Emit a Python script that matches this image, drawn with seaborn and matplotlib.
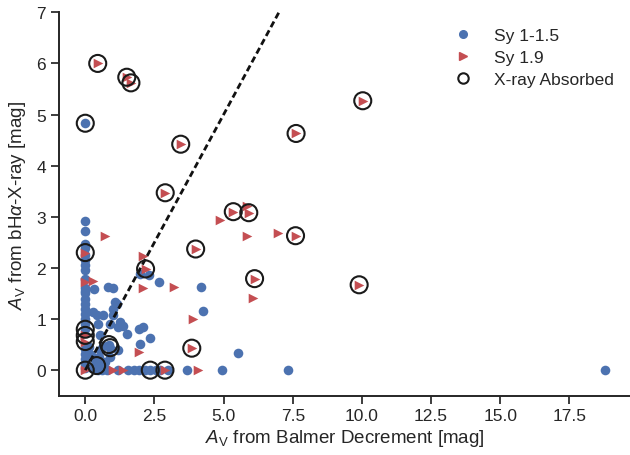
import matplotlib
matplotlib.use("Agg")
import matplotlib.pyplot as plt
import seaborn as sns
import pandas as pd
import numpy as np
from matplotlib.lines import Line2D

# ---------------- data ----------------
# Sy 1-1.5 (blue circles)
sy1_x = [0, 0, 0, 0, 0, 0, 0, 0, 0, 0, 0, 0, 0, 0, 0, 0, 0, 0, 0, 0, 0, 0, 0,
         0, 0,
         0.2, 0.35, 0.5, 0.6, 0.25, 0.55, 0.15, 0.9, 0.7, 0.41,
         0.33, 0.81, 1.01, 1.07, 1.01, 0.65, 0.41, 1.01, 0.89, 0.47, 0.53, 0.65,
         1.19, 1.19, 1.37, 1.5, 1.25, 1.13, 1.93, 2.1, 2.34, 1.98, 0.29,
         0.85, 0.9,
         1.98, 2.3, 2.66, 4.17, 4.24, 5.51,
         0.45, 0.6, 0.8, 1.2, 1.55, 1.75, 1.95, 2.15, 2.55, 2.7, 3.0, 3.67,
         4.93, 7.33, 18.8, 2.35]
sy1_y = [2.91, 2.72, 2.47, 2.38, 2.25, 2.15, 2.05, 1.95, 1.78, 1.6, 1.5, 1.4,
         1.3, 1.2, 1.1, 1.0, 0.9, 0.42, 0.32, 0.22, 0.12, 0.05, 1.55,
         4.83, 0.8,
         0.3, 0.2, 0.25, 0.1, 0.05, 0.4, 0.45, 0.25, 0.15, 0.09,
         1.59, 1.62, 1.6, 1.33, 1.2, 1.07, 1.07, 1.07, 0.9, 0.9, 0.68, 0.48,
         0.4, 0.84, 0.87, 0.71, 0.94, 1.3, 0.81, 0.84, 0.63, 0.51, 1.13,
         0.5, 0.44,
         1.88, 1.86, 1.72, 1.62, 1.15, 0.34,
         0, 0, 0, 0, 0, 0, 0, 0, 0, 0, 0, 0,
         0, 0, 0, 0]
sy1_abs = [False] * 23 + [True, True] + [False] * 9 + [True] + [False] * 23 + \
          [True, True] + [False] * 6 + [False] * 15 + [True]

# Sy 1.9 (red triangles)
sy19_x = [0.71, 0.29, 0, 2.1, 2.1, 3.22, 3.9, 1.95, 1.01, 1.37, 4.09, 5.83,
          4.88, 5.86, 6.98, 6.05,
          0, 0, 0, 0, 0.45, 1.5, 1.65, 3.45, 2.89, 2.18, 3.99, 3.85, 2.88,
          5.35, 5.91, 6.12, 7.6, 7.62, 10.03, 9.9]
sy19_y = [2.63, 1.75, 1.73, 2.24, 1.6, 1.62, 1.0, 0.36, 0, 0, 0, 3.22,
          2.93, 2.62, 2.68, 1.41,
          2.3, 0, 0.68, 0.56, 6.0, 5.73, 5.62, 4.42, 3.47, 1.98, 2.37, 0.43, 0,
          3.10, 3.08, 1.79, 2.63, 4.63, 5.27, 1.67]
sy19_abs = [False] * 16 + [True] * 20

one_to_one = [0, 7]

legend_labels = ["Sy 1-1.5", "Sy 1.9", "X-ray Absorbed"]

BLUE = "#4C72B0"
RED = "#C44E52"

# ---------------- style ----------------
sns.set_theme(style="ticks")
plt.rcParams['font.family'] = ['Liberation Sans', 'DejaVu Sans']
plt.rcParams['mathtext.fontset'] = 'custom'
plt.rcParams['mathtext.rm'] = 'Liberation Sans'
plt.rcParams['mathtext.it'] = 'Liberation Sans:italic'
plt.rcParams['mathtext.bf'] = 'Liberation Sans:bold'

fig = plt.figure(figsize=(6.3, 4.56), dpi=100)
ax = fig.add_axes([0.0932, 0.130, 0.9068, 0.8408])

df1 = pd.DataFrame({"x": sy1_x, "y": sy1_y, "abs": sy1_abs})
df2 = pd.DataFrame({"x": sy19_x, "y": sy19_y, "abs": sy19_abs})
dabs = pd.concat([df1[df1["abs"]], df2[df2["abs"]]])

sns.scatterplot(data=df1, x="x", y="y", color=BLUE, marker="o", s=48,
                linewidth=0, ax=ax, zorder=2)
sns.scatterplot(data=df2, x="x", y="y", color=RED, marker=">", s=48,
                linewidth=0, ax=ax, zorder=2)
sns.lineplot(x=one_to_one, y=one_to_one, color="#111111", linewidth=2,
             dashes=False, ax=ax, zorder=3)
ax.lines[-1].set_linestyle((0, (2.3, 1.3)))
sns.scatterplot(data=dabs, x="x", y="y", color="none", edgecolor="#1a1a1a",
                marker="o", s=150, linewidth=1.5, ax=ax, zorder=4)

ax.set_xlim(-0.96, 19.69)
ax.set_ylim(-0.5, 7)
ax.set_xticks(np.arange(0, 18, 2.5))
ax.set_yticks(range(0, 8))
ax.tick_params(labelsize=12.5, length=5.5, width=1.25, colors="#262626")
for sp in ["left", "bottom"]:
    ax.spines[sp].set_linewidth(1.4)
    ax.spines[sp].set_color("#262626")
sns.despine(ax=ax)

ax.set_xlabel(r"$A_{\rm V}$ from Balmer Decrement [mag]", fontsize=13.5,
              color="#262626", labelpad=3)
ax.set_ylabel(r"$A_{\rm V}$ from bH$\alpha$-X-ray [mag]", fontsize=13.5,
              color="#262626", labelpad=6)

handles = [
    Line2D([], [], marker="o", color=BLUE, ls="", markersize=5.5),
    Line2D([], [], marker=">", color=RED, ls="", markersize=5.5),
    Line2D([], [], marker="o", mfc="none", mec="#1a1a1a", mew=1.5, ls="",
           markersize=7.5),
]
ax.legend(handles, legend_labels, loc="upper right", frameon=False,
          fontsize=12.5, labelspacing=0.4)

fig.savefig("out.png", dpi=100)
